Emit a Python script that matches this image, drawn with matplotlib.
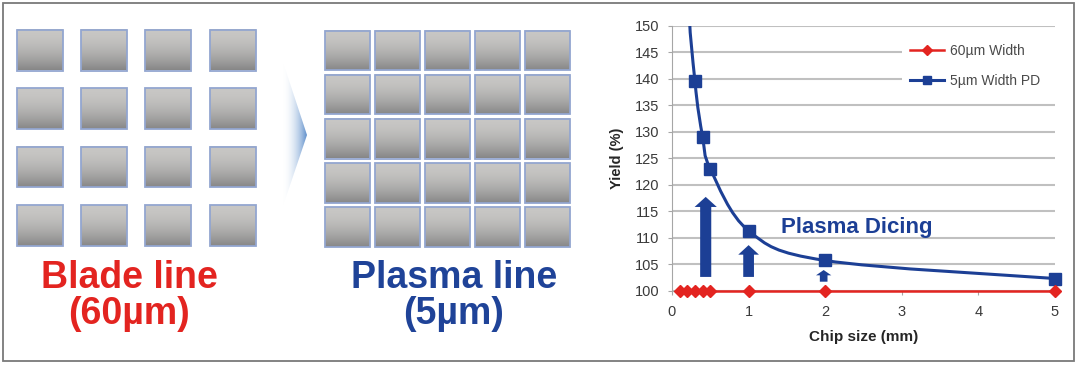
import numpy as np
import matplotlib
matplotlib.use("Agg")
import matplotlib.pyplot as plt
from matplotlib.patches import Rectangle, Polygon, PathPatch, FancyArrow
from matplotlib.path import Path
from matplotlib.lines import Line2D
import matplotlib.colors as mcolors

plt.rcParams['font.family'] = ['Liberation Sans', 'DejaVu Sans']

# ---------------- data ----------------
blade_grid = (4, 4)        # rows, cols
plasma_grid = (5, 5)
blade_label = "Blade line\n(60µm)"
plasma_label = "Plasma line\n(5µm)"

chip_size_60 = [0.1, 0.2, 0.3, 0.4, 0.5, 1, 2, 5]
yield_60 = [100, 100, 100, 100, 100, 100, 100, 100]

chip_size_5 = [0.1, 0.2, 0.3, 0.4, 0.5, 1, 2, 5]
yield_5 = [232, 161, 139.5, 129.0, 123.0, 111.3, 105.7, 102.3]

arrow_x = [0.44, 1.0, 1.98]
arrow_base = [102.6, 102.6, 101.7]
arrow_tip = [117.7, 108.6, 103.9]

x_ticks = [0, 1, 2, 3, 4, 5]
y_ticks = [100, 105, 110, 115, 120, 125, 130, 135, 140, 145, 150]
legend_labels = ["60\u00b5m Width", "5\u00b5m Width PD"]

RED = "#e32420"
BLUE = "#1c3f95"

W, H = 1080, 365
fig = plt.figure(figsize=(W / 100, H / 100), dpi=100)
fig.patch.set_facecolor("white")

# ---------------- left illustration (pixel coords) ----------------
ax0 = fig.add_axes([0, 0, 1, 1], zorder=0)
ax0.set_xlim(0, W)
ax0.set_ylim(H, 0)
ax0.axis("off")

grad = np.linspace(0, 1, 64)
top_c = np.array(mcolors.to_rgb("#c8c7c5"))
bot_c = np.array(mcolors.to_rgb("#878787"))
g = (1 - grad ** 1.8)[:, None] * top_c + (grad ** 1.8)[:, None] * bot_c
grad_img = g[:, None, :]


def draw_grid(rows, cols, x0, y0, px, py, w, h):
    for r in range(rows):
        for c in range(cols):
            x = x0 + c * px
            y = y0 + r * py
            ax0.imshow(grad_img, extent=(x, x + w, y + h, y), aspect="auto",
                       interpolation="bilinear", zorder=1)
            ax0.add_patch(Rectangle((x, y), w, h, fill=False,
                                    edgecolor="#93a6d0", lw=1.3, zorder=2))


draw_grid(blade_grid[0], blade_grid[1], 17, 30, 64.2, 58.4, 46, 40.5)
draw_grid(plasma_grid[0], plasma_grid[1], 325, 30.7, 50, 44.15, 44.5, 39.5)

# chevron with gradient
chev = Polygon([(281, 56), (307, 135), (281, 212)], closed=True,
               facecolor="none", edgecolor="none")
ax0.add_patch(chev)
cg = np.zeros((2, 64, 4))
blue_rgb = mcolors.to_rgb("#4f84c6")
for i in range(64):
    t = i / 63
    cg[:, i, :3] = blue_rgb
    cg[:, i, 3] = 0.9 * t ** 2.2
im = ax0.imshow(cg, extent=(281, 307, 212, 56), aspect="auto",
                interpolation="bilinear", zorder=1)
im.set_clip_path(chev)

ax0.text(129, 296, blade_label, color=RED, fontsize=27, fontweight="bold",
         ha="center", va="center", linespacing=1.0)
ax0.text(454, 296, plasma_label, color="#1f4398", fontsize=27,
         fontweight="bold", ha="center", va="center", linespacing=1.0)

ax0.set_xlim(0, W)
ax0.set_ylim(H, 0)

# figure border
ax0.add_patch(Rectangle((2.5, 3), 1071.5, 357.5, fill=False,
                        edgecolor="#7a7a7a", lw=1.3, zorder=5))

# ---------------- chart ----------------
ax = fig.add_axes([672 / W, 1 - 290.7 / H, (1055 - 672) / W, (290.7 - 25.7) / H],
                  zorder=2)
ax.set_xlim(0, 5)
ax.set_ylim(100, 150)
ax.set_xticks(x_ticks)
ax.set_yticks(y_ticks)
ax.grid(axis="y", color="#c0c0c0", lw=1.5)
ax.set_axisbelow(True)
for s in ["top", "right"]:
    ax.spines[s].set_visible(False)
ax.spines["left"].set_color("#a6a6a6")
ax.spines["bottom"].set_color("#a6a6a6")
ax.tick_params(axis="both", colors="#a6a6a6", labelcolor="#3a3a3a",
               labelsize=10.5, length=3)
ax.tick_params(axis="x", pad=7)
ax.tick_params(axis="y", pad=6)
ax.set_xlabel("Chip size (mm)", fontsize=11, fontweight="bold",
              color="#262626", labelpad=8)
ax.set_ylabel("Yield (%)", fontsize=10.5, fontweight="bold",
              color="#262626", labelpad=8)


def smooth_path(xs, ys):
    pts = np.column_stack([xs, ys]).astype(float)
    n = len(pts)
    verts = [pts[0]]
    codes = [Path.MOVETO]
    for i in range(n - 1):
        p0 = pts[i - 1] if i > 0 else pts[i]
        p1 = pts[i]
        p2 = pts[i + 1]
        p3 = pts[i + 2] if i + 2 < n else pts[i + 1]
        c1 = p1 + (p2 - p0) / 6
        c2 = p2 - (p3 - p1) / 6
        verts += [c1, c2, p2]
        codes += [Path.CURVE4] * 3
    return Path(verts, codes)


curve = PathPatch(smooth_path(chip_size_5, yield_5), fill=False,
                  edgecolor=BLUE, lw=2.2, transform=ax.transData, zorder=3)
ax.add_patch(curve)
visible_5 = np.ma.masked_greater(np.array(yield_5, dtype=float), 150)
ax.plot(chip_size_5, visible_5, "s", color=BLUE, ms=8, zorder=4, clip_on=False)

ax.plot(chip_size_60, yield_60, "-", color=RED, lw=1.8, marker="D", ms=6,
        zorder=5, clip_on=False)

# arrows
shaft_w = [0.145, 0.14, 0.10]
head_w = [0.29, 0.27, 0.20]
head_l = [1.9, 1.8, 1.0]
for x, b, t, sw, hw, hl in zip(arrow_x, arrow_base, arrow_tip, shaft_w, head_w, head_l):
    ax.add_patch(FancyArrow(x, b, 0, t - b, width=sw, head_width=hw,
                            head_length=hl, length_includes_head=True,
                            color=BLUE, lw=0, zorder=3))

ax.text(2.41, 112.0, "Plasma Dicing", color=BLUE, fontsize=16,
        fontweight="bold", ha="center", va="center", zorder=6)

# white area behind the legend (gridlines stop before it)
ax.add_patch(Rectangle((902 / W, 1 - 95 / H), (1065 - 902) / W, (95 - 36) / H,
                       transform=fig.transFigure, facecolor="white",
                       edgecolor="none", zorder=2.5, clip_on=False))

handles = [Line2D([], [], color=RED, lw=1.8, marker="D", ms=5),
           Line2D([], [], color=BLUE, lw=2.2, marker="s", ms=6)]
leg = ax.legend(handles, legend_labels, loc="upper left",
                bbox_to_anchor=(906 / W, 1 - 39.5 / H),
                bbox_transform=fig.transFigure, frameon=True, fontsize=10,
                borderaxespad=0, borderpad=0.3, handlelength=2.4,
                handletextpad=0.5, labelspacing=1.15, fancybox=False)
leg.get_frame().set_edgecolor("none")
leg.get_frame().set_facecolor("white")
leg.get_frame().set_alpha(1)
leg.set_zorder(7)
for t in leg.get_texts():
    t.set_color("#4a4a4a")

fig.savefig("out.png", dpi=100)
